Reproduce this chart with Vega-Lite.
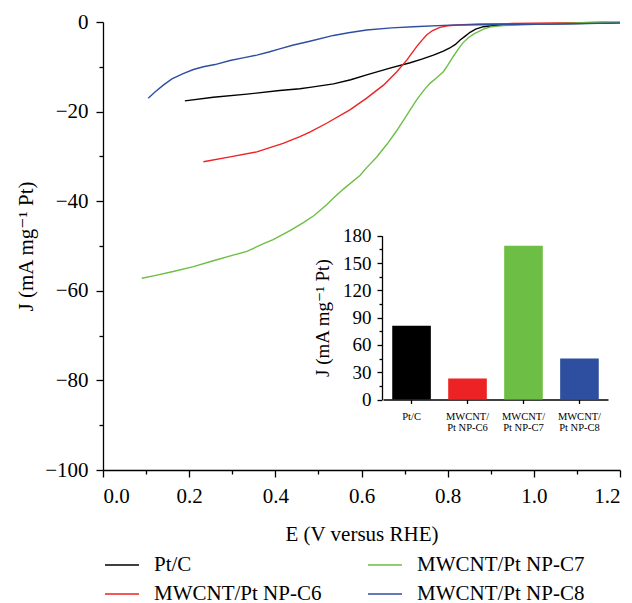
{
  "$schema": "https://vega.github.io/schema/vega-lite/v6.json",
  "width": 517,
  "height": 448,
  "autosize": {"type": "none"},
  "padding": {"left": 103, "top": 22, "right": 12, "bottom": 133},
  "config": {
    "font": "Liberation Serif, Times New Roman, DejaVu Serif, serif",
    "view": {"stroke": null},
    "text": {"font": "Liberation Serif, Times New Roman, DejaVu Serif, serif"},
    "axis": {
      "grid": false,
      "domainColor": "#000000",
      "domainWidth": 1.3,
      "tickColor": "#000000",
      "tickWidth": 1.3,
      "labelColor": "#000000",
      "titleColor": "#000000",
      "labelFont": "Liberation Serif, Times New Roman, DejaVu Serif, serif",
      "titleFont": "Liberation Serif, Times New Roman, DejaVu Serif, serif",
      "titleFontWeight": "normal",
      "labelOverlap": false
    },
    "legend": {
      "labelFont": "Liberation Serif, Times New Roman, DejaVu Serif, serif",
      "labelColor": "#000000"
    }
  },
  "datasets": {
    "curves": [
      {"sample": "Pt/C", "E": 0.19, "J": -17.6},
      {"sample": "Pt/C", "E": 0.256, "J": -16.8},
      {"sample": "Pt/C", "E": 0.334, "J": -16.1},
      {"sample": "Pt/C", "E": 0.41, "J": -15.3},
      {"sample": "Pt/C", "E": 0.457, "J": -14.9},
      {"sample": "Pt/C", "E": 0.48, "J": -14.6},
      {"sample": "Pt/C", "E": 0.535, "J": -13.8},
      {"sample": "Pt/C", "E": 0.575, "J": -12.9},
      {"sample": "Pt/C", "E": 0.612, "J": -11.8},
      {"sample": "Pt/C", "E": 0.666, "J": -10.3},
      {"sample": "Pt/C", "E": 0.713, "J": -9.1},
      {"sample": "Pt/C", "E": 0.74, "J": -8.3},
      {"sample": "Pt/C", "E": 0.767, "J": -7.4},
      {"sample": "Pt/C", "E": 0.79, "J": -6.5},
      {"sample": "Pt/C", "E": 0.805, "J": -5.8},
      {"sample": "Pt/C", "E": 0.818, "J": -5.0},
      {"sample": "Pt/C", "E": 0.829, "J": -4.0},
      {"sample": "Pt/C", "E": 0.84, "J": -3.2},
      {"sample": "Pt/C", "E": 0.852, "J": -2.3},
      {"sample": "Pt/C", "E": 0.865, "J": -1.6},
      {"sample": "Pt/C", "E": 0.883, "J": -1.05},
      {"sample": "Pt/C", "E": 0.92, "J": -0.67},
      {"sample": "Pt/C", "E": 0.97, "J": -0.5},
      {"sample": "Pt/C", "E": 1.05, "J": -0.4},
      {"sample": "Pt/C", "E": 1.2, "J": -0.2},
      {"sample": "MWCNT/Pt NP-C6", "E": 0.233, "J": -31.2},
      {"sample": "MWCNT/Pt NP-C6", "E": 0.295, "J": -30.1},
      {"sample": "MWCNT/Pt NP-C6", "E": 0.357, "J": -29.0},
      {"sample": "MWCNT/Pt NP-C6", "E": 0.418, "J": -27.1},
      {"sample": "MWCNT/Pt NP-C6", "E": 0.457, "J": -25.6},
      {"sample": "MWCNT/Pt NP-C6", "E": 0.48, "J": -24.6},
      {"sample": "MWCNT/Pt NP-C6", "E": 0.519, "J": -22.6},
      {"sample": "MWCNT/Pt NP-C6", "E": 0.573, "J": -19.6},
      {"sample": "MWCNT/Pt NP-C6", "E": 0.612, "J": -17.0},
      {"sample": "MWCNT/Pt NP-C6", "E": 0.651, "J": -14.1},
      {"sample": "MWCNT/Pt NP-C6", "E": 0.682, "J": -11.1},
      {"sample": "MWCNT/Pt NP-C6", "E": 0.705, "J": -8.5},
      {"sample": "MWCNT/Pt NP-C6", "E": 0.728, "J": -5.5},
      {"sample": "MWCNT/Pt NP-C6", "E": 0.74, "J": -4.1},
      {"sample": "MWCNT/Pt NP-C6", "E": 0.751, "J": -2.9},
      {"sample": "MWCNT/Pt NP-C6", "E": 0.765, "J": -1.9},
      {"sample": "MWCNT/Pt NP-C6", "E": 0.782, "J": -1.2},
      {"sample": "MWCNT/Pt NP-C6", "E": 0.8, "J": -0.85},
      {"sample": "MWCNT/Pt NP-C6", "E": 0.821, "J": -0.67},
      {"sample": "MWCNT/Pt NP-C6", "E": 0.875, "J": -0.45},
      {"sample": "MWCNT/Pt NP-C6", "E": 0.95, "J": -0.35},
      {"sample": "MWCNT/Pt NP-C6", "E": 1.05, "J": -0.2},
      {"sample": "MWCNT/Pt NP-C6", "E": 1.2, "J": -0.05},
      {"sample": "MWCNT/Pt NP-C7", "E": 0.09, "J": -57.2},
      {"sample": "MWCNT/Pt NP-C7", "E": 0.12, "J": -56.6},
      {"sample": "MWCNT/Pt NP-C7", "E": 0.163, "J": -55.7},
      {"sample": "MWCNT/Pt NP-C7", "E": 0.21, "J": -54.6},
      {"sample": "MWCNT/Pt NP-C7", "E": 0.256, "J": -53.3},
      {"sample": "MWCNT/Pt NP-C7", "E": 0.3, "J": -52.1},
      {"sample": "MWCNT/Pt NP-C7", "E": 0.334, "J": -51.2},
      {"sample": "MWCNT/Pt NP-C7", "E": 0.37, "J": -49.6},
      {"sample": "MWCNT/Pt NP-C7", "E": 0.395, "J": -48.6},
      {"sample": "MWCNT/Pt NP-C7", "E": 0.435, "J": -46.5},
      {"sample": "MWCNT/Pt NP-C7", "E": 0.465, "J": -44.8},
      {"sample": "MWCNT/Pt NP-C7", "E": 0.49, "J": -43.2},
      {"sample": "MWCNT/Pt NP-C7", "E": 0.519, "J": -40.8},
      {"sample": "MWCNT/Pt NP-C7", "E": 0.535, "J": -39.3},
      {"sample": "MWCNT/Pt NP-C7", "E": 0.558, "J": -37.3},
      {"sample": "MWCNT/Pt NP-C7", "E": 0.597, "J": -34.2},
      {"sample": "MWCNT/Pt NP-C7", "E": 0.612, "J": -32.5},
      {"sample": "MWCNT/Pt NP-C7", "E": 0.635, "J": -30.2},
      {"sample": "MWCNT/Pt NP-C7", "E": 0.659, "J": -27.3},
      {"sample": "MWCNT/Pt NP-C7", "E": 0.68, "J": -24.5},
      {"sample": "MWCNT/Pt NP-C7", "E": 0.697, "J": -22.0},
      {"sample": "MWCNT/Pt NP-C7", "E": 0.713, "J": -19.6},
      {"sample": "MWCNT/Pt NP-C7", "E": 0.728, "J": -17.4},
      {"sample": "MWCNT/Pt NP-C7", "E": 0.745, "J": -15.2},
      {"sample": "MWCNT/Pt NP-C7", "E": 0.759, "J": -13.7},
      {"sample": "MWCNT/Pt NP-C7", "E": 0.775, "J": -12.4},
      {"sample": "MWCNT/Pt NP-C7", "E": 0.79, "J": -11.1},
      {"sample": "MWCNT/Pt NP-C7", "E": 0.8, "J": -9.7},
      {"sample": "MWCNT/Pt NP-C7", "E": 0.813, "J": -7.7},
      {"sample": "MWCNT/Pt NP-C7", "E": 0.825, "J": -6.0},
      {"sample": "MWCNT/Pt NP-C7", "E": 0.836, "J": -4.6},
      {"sample": "MWCNT/Pt NP-C7", "E": 0.848, "J": -3.5},
      {"sample": "MWCNT/Pt NP-C7", "E": 0.86, "J": -2.7},
      {"sample": "MWCNT/Pt NP-C7", "E": 0.875, "J": -2.0},
      {"sample": "MWCNT/Pt NP-C7", "E": 0.883, "J": -1.6},
      {"sample": "MWCNT/Pt NP-C7", "E": 0.9, "J": -1.1},
      {"sample": "MWCNT/Pt NP-C7", "E": 0.929, "J": -0.8},
      {"sample": "MWCNT/Pt NP-C7", "E": 0.97, "J": -0.6},
      {"sample": "MWCNT/Pt NP-C7", "E": 1.02, "J": -0.45},
      {"sample": "MWCNT/Pt NP-C7", "E": 1.1, "J": -0.2},
      {"sample": "MWCNT/Pt NP-C7", "E": 1.16, "J": 0.0},
      {"sample": "MWCNT/Pt NP-C7", "E": 1.2, "J": -0.1},
      {"sample": "MWCNT/Pt NP-C8", "E": 0.105, "J": -17.0},
      {"sample": "MWCNT/Pt NP-C8", "E": 0.12, "J": -15.7},
      {"sample": "MWCNT/Pt NP-C8", "E": 0.14, "J": -14.1},
      {"sample": "MWCNT/Pt NP-C8", "E": 0.16, "J": -12.7},
      {"sample": "MWCNT/Pt NP-C8", "E": 0.186, "J": -11.5},
      {"sample": "MWCNT/Pt NP-C8", "E": 0.21, "J": -10.6},
      {"sample": "MWCNT/Pt NP-C8", "E": 0.233, "J": -10.0},
      {"sample": "MWCNT/Pt NP-C8", "E": 0.26, "J": -9.5},
      {"sample": "MWCNT/Pt NP-C8", "E": 0.295, "J": -8.6},
      {"sample": "MWCNT/Pt NP-C8", "E": 0.325, "J": -8.0},
      {"sample": "MWCNT/Pt NP-C8", "E": 0.357, "J": -7.4},
      {"sample": "MWCNT/Pt NP-C8", "E": 0.385, "J": -6.7},
      {"sample": "MWCNT/Pt NP-C8", "E": 0.41, "J": -6.0},
      {"sample": "MWCNT/Pt NP-C8", "E": 0.44, "J": -5.2},
      {"sample": "MWCNT/Pt NP-C8", "E": 0.48, "J": -4.3},
      {"sample": "MWCNT/Pt NP-C8", "E": 0.535, "J": -3.0},
      {"sample": "MWCNT/Pt NP-C8", "E": 0.57, "J": -2.4},
      {"sample": "MWCNT/Pt NP-C8", "E": 0.612, "J": -1.8},
      {"sample": "MWCNT/Pt NP-C8", "E": 0.67, "J": -1.3},
      {"sample": "MWCNT/Pt NP-C8", "E": 0.72, "J": -1.05},
      {"sample": "MWCNT/Pt NP-C8", "E": 0.805, "J": -0.7},
      {"sample": "MWCNT/Pt NP-C8", "E": 0.875, "J": -0.6},
      {"sample": "MWCNT/Pt NP-C8", "E": 1.0, "J": -0.5},
      {"sample": "MWCNT/Pt NP-C8", "E": 1.1, "J": -0.4},
      {"sample": "MWCNT/Pt NP-C8", "E": 1.2, "J": -0.2}
    ],
    "bars": [
      {"sample": "Pt/C", "J": 81},
      {"sample": "MWCNT/Pt NP-C6", "J": 23},
      {"sample": "MWCNT/Pt NP-C7", "J": 169},
      {"sample": "MWCNT/Pt NP-C8", "J": 45}
    ]
  },
  "layer": [
    {
      "data": {"name": "curves"},
      "mark": {"type": "line", "strokeWidth": 1.4},
      "encoding": {
        "x": {
          "field": "E",
          "type": "quantitative",
          "scale": {"domain": [0, 1.2], "nice": false},
          "axis": {
            "orient": "bottom",
            "title": "E (V versus RHE)",
            "titleFontSize": 21,
            "titlePadding": 17,
            "values": [0, 0.1, 0.2, 0.3, 0.4, 0.5, 0.6, 0.7, 0.8, 0.9, 1.0, 1.1, 1.2],
            "format": ".1f",
            "labelExpr": "round(datum.value * 10) % 2 === 0 ? datum.label : ''",
            "labelFontSize": 21,
            "labelPadding": 8,
            "tickSize": {"condition": {"test": "round(datum.value * 10) % 2 !== 0", "value": 4}, "value": 7}
          }
        },
        "y": {
          "field": "J",
          "type": "quantitative",
          "scale": {"domain": [-100, 0], "nice": false},
          "axis": {
            "orient": "left",
            "title": "J (mA mg⁻¹ Pt)",
            "titleFontSize": 21,
            "titlePadding": 8,
            "values": [-100, -90, -80, -70, -60, -50, -40, -30, -20, -10, 0],
            "labelExpr": "datum.value % 20 === 0 ? datum.label : ''",
            "labelFontSize": 21,
            "labelPadding": 8,
            "tickSize": {"condition": {"test": "datum.value % 20 !== 0", "value": 4}, "value": 7}
          }
        },
        "color": {
          "field": "sample",
          "type": "nominal",
          "scale": {
            "domain": ["Pt/C", "MWCNT/Pt NP-C6", "MWCNT/Pt NP-C7", "MWCNT/Pt NP-C8"],
            "range": ["#000000", "#ED2224", "#6DBE45", "#2E4FA0"]
          },
          "sort": null,
          "legend": {
            "title": null,
            "orient": "none",
            "legendX": 1,
            "legendY": 525,
            "columns": 2,
            "columnPadding": 42,
            "rowPadding": 1,
            "padding": 0,
            "symbolType": "stroke",
            "symbolSize": 1156,
            "symbolStrokeWidth": 1.6,
            "labelFontSize": 21,
            "labelOffset": 14,
            "labelLimit": 300
          }
        }
      }
    },
    {
      "data": {"name": "bars"},
      "mark": {"type": "bar"},
      "encoding": {
        "x": {
          "field": "sample",
          "type": "nominal",
          "sort": ["Pt/C", "MWCNT/Pt NP-C6", "MWCNT/Pt NP-C7", "MWCNT/Pt NP-C8"],
          "scale": {"range": [280, 505], "paddingInner": 0.31, "paddingOuter": 0.165},
          "axis": {
            "orient": "bottom",
            "offset": -70.5,
            "title": null,
            "labelAngle": 0,
            "labelFontSize": 10.5,
            "labelLineHeight": 11,
            "labelPadding": 8,
            "labelExpr": "split(replace(datum.label, '/P', '/|P'), '|')",
            "tickSize": 4
          }
        },
        "y": {
          "field": "J",
          "type": "quantitative",
          "scale": {"domain": [0, 180], "nice": false, "range": [377.5, 213.7]},
          "axis": {
            "orient": "left",
            "offset": -279,
            "title": "J (mA mg⁻¹ Pt)",
            "titleFontSize": 19,
            "titlePadding": 10,
            "values": [0, 15, 30, 45, 60, 75, 90, 105, 120, 135, 150, 165, 180],
            "labelExpr": "datum.value % 30 === 0 ? datum.label : ''",
            "labelFontSize": 19,
            "labelPadding": 6,
            "tickSize": {"condition": {"test": "datum.value % 30 !== 0", "value": 3}, "value": 5}
          }
        },
        "color": {
          "field": "sample",
          "type": "nominal",
          "sort": null,
          "scale": {
            "domain": ["Pt/C", "MWCNT/Pt NP-C6", "MWCNT/Pt NP-C7", "MWCNT/Pt NP-C8"],
            "range": ["#000000", "#ED2224", "#6DBE45", "#2E4FA0"]
          }
        }
      }
    }
  ],
  "resolve": {
    "scale": {"x": "independent", "y": "independent"},
    "axis": {"x": "independent", "y": "independent"}
  }
}
